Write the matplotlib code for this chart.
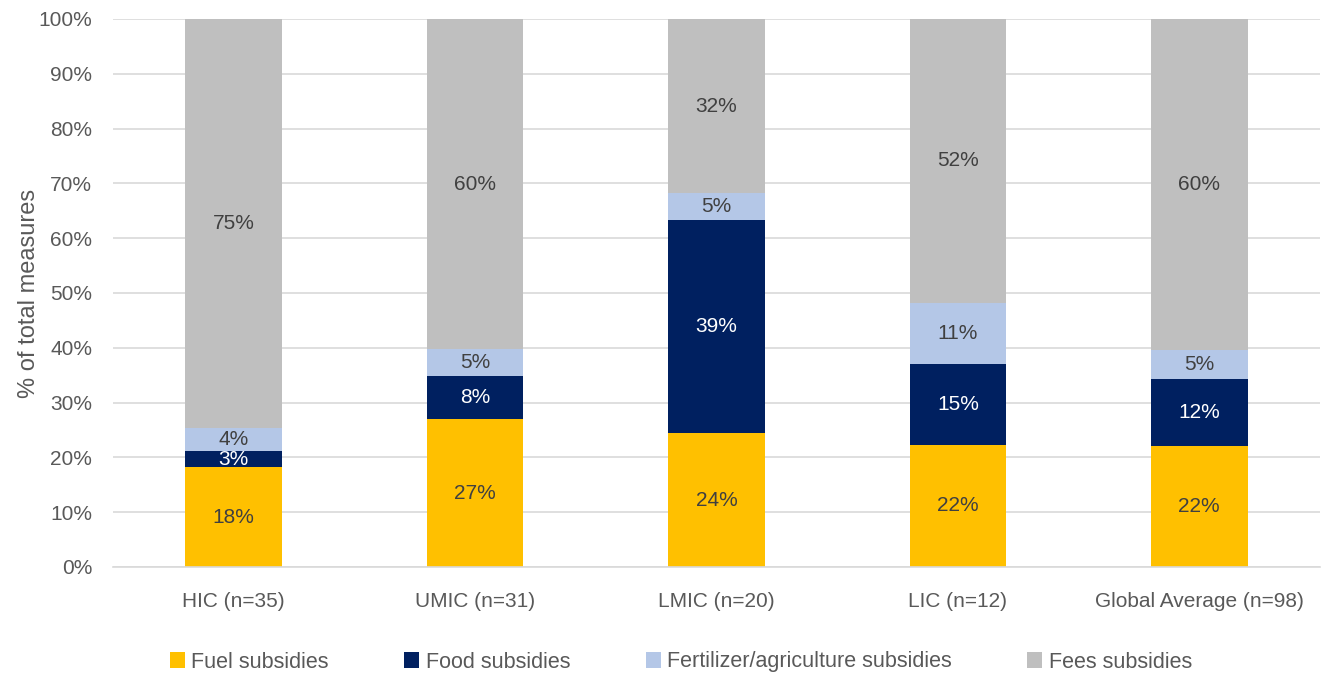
import numpy as np
import matplotlib.pyplot as plt
from matplotlib.ticker import PercentFormatter

plt.rcParams['font.family'] = ['Liberation Sans', 'DejaVu Sans']

groups = ['HIC (n=35)', 'UMIC (n=31)', 'LMIC (n=20)', 'LIC (n=12)', 'Global Average (n=98)']
series = ['Fuel subsidies', 'Food subsidies', 'Fertilizer/agriculture subsidies', 'Fees subsidies']
fuel = [18.2, 27.0, 24.4, 22.3, 22.1]
food = [2.9, 7.8, 38.9, 14.7, 12.2]
fert = [4.2, 4.9, 4.9, 11.2, 5.3]
fees = [74.7, 60.3, 31.8, 51.8, 60.4]

colors = ['#FFC000', '#002060', '#B4C7E7', '#BFBFBF']
text_colors = ['#404040', 'white', '#404040', '#404040']

fig = plt.figure(figsize=(13.22, 6.75), dpi=100)
ax = fig.add_axes([113 / 1322, 1 - 567 / 675, 1207 / 1322, 548 / 675])

x = np.arange(len(groups))
bottom = np.zeros(len(groups))
for vals, name, c, tc in zip([fuel, food, fert, fees], series, colors, text_colors):
    vals = np.array(vals)
    ax.bar(x, vals, 0.4, bottom=bottom, color=c, label=name, zorder=2)
    for xi, b, v in zip(x, bottom, vals):
        ax.text(xi, b + v / 2, '%.0f%%' % v, ha='center', va='center',
                color=tc, fontsize=15)
    bottom += vals

ax.set_xlim(-0.5, 4.5)
ax.set_ylim(0, 100)
ax.set_yticks(np.arange(0, 101, 10))
ax.yaxis.set_major_formatter(PercentFormatter(decimals=0))
ax.set_xticks(x)
ax.set_xticklabels(groups)
ax.grid(axis='y', color='#D9D9D9', linewidth=1.2, zorder=0)
for s in ['top', 'right', 'left']:
    ax.spines[s].set_visible(False)
ax.spines['bottom'].set_color('#D9D9D9')
ax.spines['bottom'].set_linewidth(1.2)
ax.tick_params(length=0, colors='#595959', labelsize=15)
ax.tick_params(axis='x', pad=18)
ax.tick_params(axis='y', pad=15)
ax.set_ylabel('% of total measures', fontsize=17, color='#595959', labelpad=-1)

fig.legend(loc='center', bbox_to_anchor=(0.515, 1 - 662 / 675), ncol=4, frameon=False,
           fontsize=15.5, handlelength=0.7, handleheight=0.7, handletextpad=0.3,
           columnspacing=3.5, labelcolor='#595959')

fig.savefig('out.png', dpi=100)
